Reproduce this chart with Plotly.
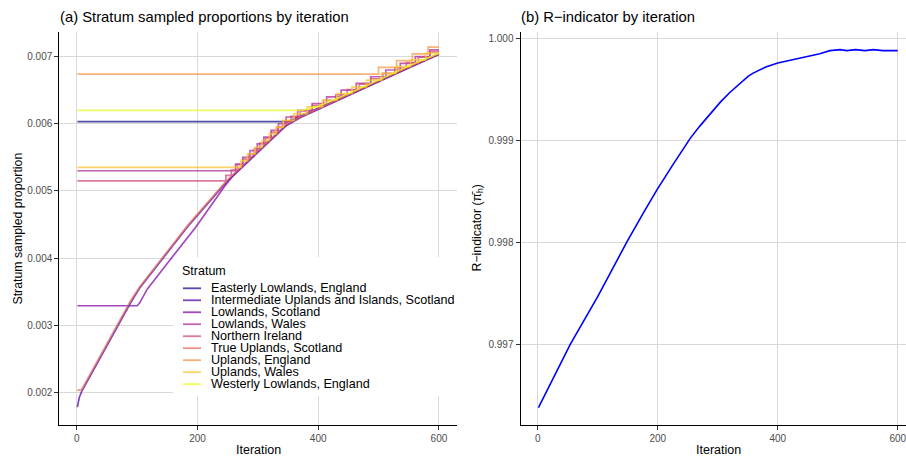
import plotly.graph_objects as go

# ---------------- data ----------------
strata = [
    "Easterly Lowlands, England",
    "Intermediate Uplands and Islands, Scotland",
    "Lowlands, Scotland",
    "Lowlands, Wales",
    "Northern Ireland",
    "True Uplands, Scotland",
    "Uplands, England",
    "Uplands, Wales",
    "Westerly Lowlands, England",
]

easterly_iter = [1, 350, 370, 430, 490, 550, 600]
easterly_prop = [0.00603, 0.00603, 0.00611, 0.00635, 0.00659, 0.00684, 0.00704]

intermediate_iter = [1, 4, 8, 68, 89, 104, 143, 184, 248, 300, 347, 370, 430, 490, 550, 600]
intermediate_prop = [0.00178, 0.00192, 0.00201, 0.00299, 0.00333, 0.00355, 0.00399, 0.00447,
                     0.00513, 0.00557, 0.00597, 0.00609, 0.00634, 0.00658, 0.00683, 0.00703]

lowl_scot_iter = [1, 100, 104, 117, 156, 197, 245, 258, 300, 347, 370, 430, 490, 550, 600]
lowl_scot_prop = [0.00329, 0.00329, 0.00333, 0.00354, 0.00399, 0.00446, 0.00507, 0.00522,
                  0.00559, 0.00598, 0.00610, 0.00635, 0.00659, 0.00684, 0.00704]

lowl_wales_iter = [1, 263, 275, 287, 299, 310, 322, 334, 347, 366, 390, 414, 438, 463, 487,
                   512, 536, 561, 585, 600]
lowl_wales_prop = [0.00530, 0.00540, 0.00550, 0.00560, 0.00570, 0.00580, 0.00590, 0.00600,
                   0.00610, 0.00620, 0.00630, 0.00640, 0.00650, 0.00660, 0.00670, 0.00680,
                   0.00690, 0.00700, 0.00710, 0.00710]

ni_iter = [1, 247, 256, 266, 275, 285, 294, 303, 313, 322, 332, 341, 355, 370, 390, 409, 429,
           448, 468, 487, 507, 527, 546, 566, 585, 600]
ni_prop = [0.00515, 0.00523, 0.00531, 0.00539, 0.00547, 0.00555, 0.00563, 0.00571, 0.00579,
           0.00587, 0.00595, 0.00603, 0.00611, 0.00619, 0.00627, 0.00635, 0.00643, 0.00651,
           0.00659, 0.00667, 0.00675, 0.00683, 0.00691, 0.00699, 0.00707, 0.00707]

true_upl_iter = [1, 8, 68, 89, 104, 143, 184, 248, 300, 347, 370, 430, 490, 550, 600]
true_upl_prop = [0.00203, 0.00204, 0.00302, 0.00336, 0.00357, 0.00401, 0.00449, 0.00515,
                 0.00559, 0.00599, 0.00610, 0.00635, 0.00659, 0.00684, 0.00704]

upl_eng_iter = [1, 500, 530, 556, 582, 600]
upl_eng_prop = [0.00674, 0.00684, 0.00694, 0.00704, 0.00714, 0.00714]

upl_wales_iter = [1, 272, 283, 295, 307, 319, 330, 342, 360, 382, 407, 431, 456, 480, 505,
                  529, 553, 578, 600]
upl_wales_prop = [0.00535, 0.00545, 0.00555, 0.00565, 0.00575, 0.00585, 0.00595, 0.00605,
                  0.00615, 0.00625, 0.00635, 0.00645, 0.00655, 0.00665, 0.00675, 0.00685,
                  0.00695, 0.00705, 0.00705]

westerly_iter = [1, 373, 400, 430, 490, 550, 600]
westerly_prop = [0.00620, 0.00620, 0.00626, 0.00637, 0.00661, 0.00686, 0.00705]

r_iter = [1, 20, 54, 100, 142, 148, 175, 198, 225, 254, 270, 287, 305, 320, 335, 343, 351,
          359, 370, 380, 400, 425, 448, 470, 487, 504, 515, 530, 545, 560, 575, 590, 600]
r_value = [0.99638, 0.99660, 0.99700, 0.99747, 0.99794, 0.99800, 0.99828, 0.99851, 0.99876,
           0.99902, 0.99914, 0.99926, 0.99938, 0.99947, 0.99955, 0.99959, 0.99963, 0.99966,
           0.99969, 0.99972, 0.99976, 0.99979, 0.99982, 0.99985, 0.99988, 0.99989, 0.99988,
           0.99989, 0.99988, 0.99989, 0.99988, 0.99988, 0.99988]

y1_ticks = [0.002, 0.003, 0.004, 0.005, 0.006, 0.007]
y2_ticks = [0.997, 0.998, 0.999, 1.000]
x_ticks = [0, 200, 400, 600]

series = [
    (easterly_iter, easterly_prop),
    (intermediate_iter, intermediate_prop),
    (lowl_scot_iter, lowl_scot_prop),
    (lowl_wales_iter, lowl_wales_prop),
    (ni_iter, ni_prop),
    (true_upl_iter, true_upl_prop),
    (upl_eng_iter, upl_eng_prop),
    (upl_wales_iter, upl_wales_prop),
    (westerly_iter, westerly_prop),
]

# ---------------- style ----------------
plasma = ["#0D0887", "#4C02A1", "#7E03A8", "#A92395", "#CC4678",
          "#E56B5D", "#F89441", "#FDC328", "#F0F921"]
shapes_kind = ["linear", "linear", "linear", "hv", "hv", "linear", "hv", "hv", "linear"]


def rgba(h, a=0.72):
    h = h.lstrip("#")
    return "rgba(%d,%d,%d,%.2f)" % (int(h[0:2], 16), int(h[2:4], 16), int(h[4:6], 16), a)


W, H = 906, 456


def px(x):
    return x / W


def py(y):
    return 1 - y / H


FONT = "Liberation Sans, Arial, Helvetica, sans-serif"

fig = go.Figure()

for (xs, ys), col, kind in zip(series, plasma, shapes_kind):
    fig.add_trace(go.Scatter(x=xs, y=ys, mode="lines", xaxis="x", yaxis="y",
                             line=dict(color=rgba(col), width=1.7, shape=kind),
                             hoverinfo="skip", showlegend=False))

fig.add_trace(go.Scatter(x=r_iter, y=r_value, mode="lines", xaxis="x2", yaxis="y2",
                         line=dict(color="#0000FF", width=1.6), showlegend=False))

dom_y = [py(425), py(32)]
axis_common = dict(showgrid=True, gridcolor="#D9D9D9", gridwidth=1.1, zeroline=False,
                   showline=True, linecolor="black", linewidth=1,
                   ticks="outside", ticklen=4, tickcolor="#333333", tickwidth=1,
                   ticklabeloverflow="allow",
                   tickfont=dict(family=FONT, size=10, color="#4D4D4D"))

fig.update_layout(
    width=W, height=H,
    margin=dict(l=0, r=0, t=0, b=0),
    paper_bgcolor="white", plot_bgcolor="white",
    showlegend=False,
    font=dict(family=FONT, color="black"),
    xaxis=dict(domain=[px(59.3), px(457)], range=[-28.95, 629.95], anchor="y",
               tickvals=x_ticks, **axis_common),
    yaxis=dict(domain=dom_y, range=[0.001514, 0.007366], anchor="x",
               tickvals=y1_ticks, tickformat=".3f", **axis_common),
    xaxis2=dict(domain=[px(520.5), 1.0], range=[-28.95, 613.8], anchor="y2",
                tickvals=x_ticks, **axis_common),
    yaxis2=dict(domain=dom_y, range=[0.996209, 1.000063], anchor="x2",
                tickvals=y2_ticks, tickformat=".3f", **axis_common),
)

annotations = [
    dict(text="(a) Stratum sampled proportions by iteration", x=px(58), y=py(17.5),
         xanchor="left", yanchor="middle", font=dict(size=14.8)),
    dict(text="(b) R\u2212indicator by iteration", x=px(519), y=py(17.5),
         xanchor="left", yanchor="middle", font=dict(size=14.8)),
    dict(text="Iteration", x=px((59.3 + 457) / 2), y=py(450),
         xanchor="center", yanchor="middle", font=dict(size=12.5)),
    dict(text="Iteration", x=px((520.5 + 915.7) / 2), y=py(450),
         xanchor="center", yanchor="middle", font=dict(size=12.5)),
    dict(text="Stratum sampled proportion", x=px(17), y=py(228.5), textangle=-90,
         xanchor="center", yanchor="middle", font=dict(size=12.3)),
    dict(text="R\u2212indicator (\u03c0\u0304<sub>h</sub>)", x=px(477), y=py(228.5), textangle=-90,
         xanchor="center", yanchor="middle", font=dict(size=12.3)),
    dict(text="Stratum", x=px(180), y=py(270.7), xanchor="left", yanchor="middle",
         font=dict(size=12.5)),
]

shapes = [dict(type="rect", xref="paper", yref="paper", x0=px(173), x1=px(463),
               y0=py(396), y1=py(257), fillcolor="white", line=dict(width=0), layer="above")]

for k, (name, col) in enumerate(zip(strata, plasma)):
    yc = 288.3 + 11.98 * k
    shapes.append(dict(type="line", xref="paper", yref="paper", x0=px(183), x1=px(201),
                       y0=py(yc), y1=py(yc), line=dict(color=rgba(col), width=1.8),
                       layer="above"))
    annotations.append(dict(text=name, x=px(208.5), y=py(yc), xanchor="left",
                            yanchor="middle", font=dict(size=12.6)))

for a in annotations:
    a.setdefault("xref", "paper")
    a.setdefault("yref", "paper")
    a["showarrow"] = False
    a["font"] = dict(family=FONT, color="black", **a["font"])

fig.update_layout(annotations=annotations, shapes=shapes)

fig.write_html(
    "out.html",
    config={"displayModeBar": False},
    post_script="document.body.style.margin='0';document.body.style.padding='0';"
                "document.body.style.overflow='hidden';",
)
